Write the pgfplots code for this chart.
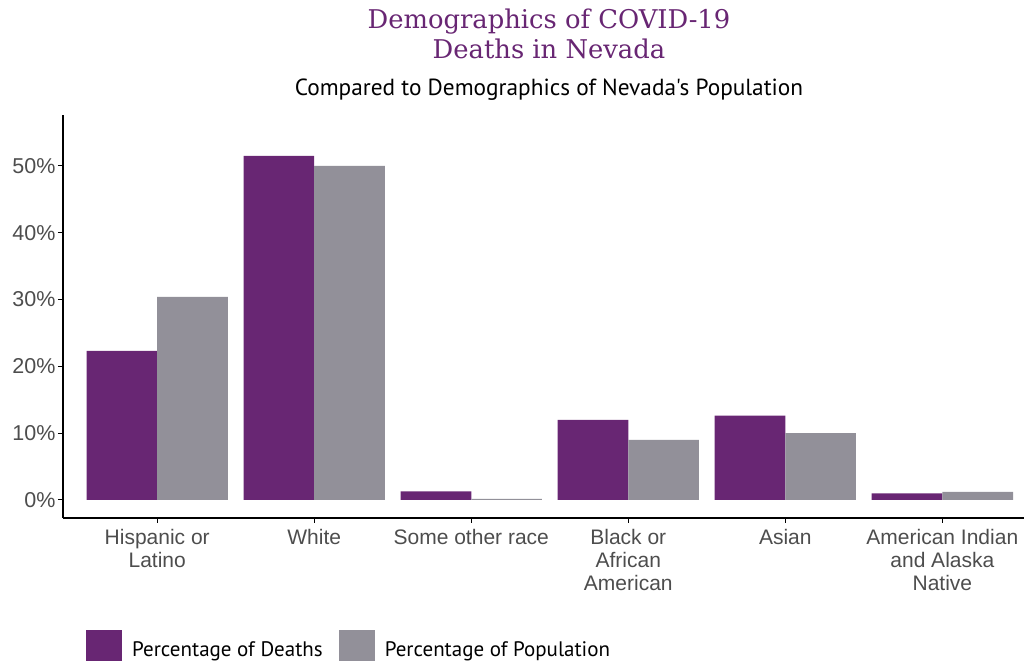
\documentclass[border=0pt]{standalone}
\usepackage{fontspec}
\setmainfont{Liberation Sans}
\newfontfamily\titlefont{DejaVu Serif}
\newfontfamily\ptsans{PT Sans}
\usepackage{pgfplots}
\pgfplotsset{compat=1.18}
\definecolor{deaths}{RGB}{104,38,115}
\definecolor{popn}{RGB}{146,144,153}
\definecolor{ticktext}{RGB}{77,77,77}

\begin{document}
\begin{tikzpicture}
\path[use as bounding box] (-63pt,-143pt) rectangle (963pt,518pt);
\begin{axis}[
  scale only axis, width=961pt, height=403pt,
  at={(0,0)}, anchor=south west,
  ybar=0pt, bar width=0.45,
  xmin=-0.6, xmax=5.52, ymin=-2.7, ymax=57.6,
  axis lines=left, axis line style={-, line width=1.4pt, black},
  tick align=outside, major tick length=5pt,
  tick style={line width=1pt, black},
  xtick=data,
  xticklabels={{Hispanic or\\Latino},{White},{Some other race},{Black or\\African\\American},{Asian},{American Indian\\and Alaska\\Native}},
  x tick label style={align=center, font=\fontsize{21}{23}\selectfont, text=ticktext, yshift=-3pt},
  ytick={0,10,20,30,40,50},
  yticklabels={0\%,10\%,20\%,30\%,40\%,50\%},
  y tick label style={font=\fontsize{21.5}{23}\selectfont, text=ticktext, xshift=1pt},
  legend style={at={(axis description cs:0,0)}, anchor=west, xshift=23pt, yshift=-130pt,
    draw=none, fill=none, inner sep=0pt, font=\ptsans\fontsize{21}{24}\selectfont,
    /tikz/every even column/.append style={column sep=14pt}},
  legend columns=2,
  legend image code/.code={\fill[#1] (0pt,-16pt) rectangle (36pt,20pt); \path (44pt,0pt);},
  clip=false,
]
\addplot[fill=deaths, draw=none] coordinates {(0,22.3) (1,51.5) (2,1.3) (3,12.0) (4,12.6) (5,1.0)};
\addlegendentry{Percentage of Deaths}
\addplot[fill=popn, draw=none] coordinates {(0,30.4) (1,50.0) (2,0.15) (3,9.0) (4,10.0) (5,1.2)};
\addlegendentry{Percentage of Population}

\node[align=center, font=\titlefont\fontsize{25.8}{30}\selectfont, text=deaths]
  at ([xshift=5.5pt, yshift=81pt]axis description cs:0.5,1) {Demographics of COVID-19\\Deaths in Nevada};
\node[font=\ptsans\fontsize{23.3}{26}\selectfont, text=black]
  at ([xshift=5.5pt, yshift=25pt]axis description cs:0.5,1) {Compared to Demographics of Nevada's Population};
\end{axis}
\end{tikzpicture}
\end{document}
